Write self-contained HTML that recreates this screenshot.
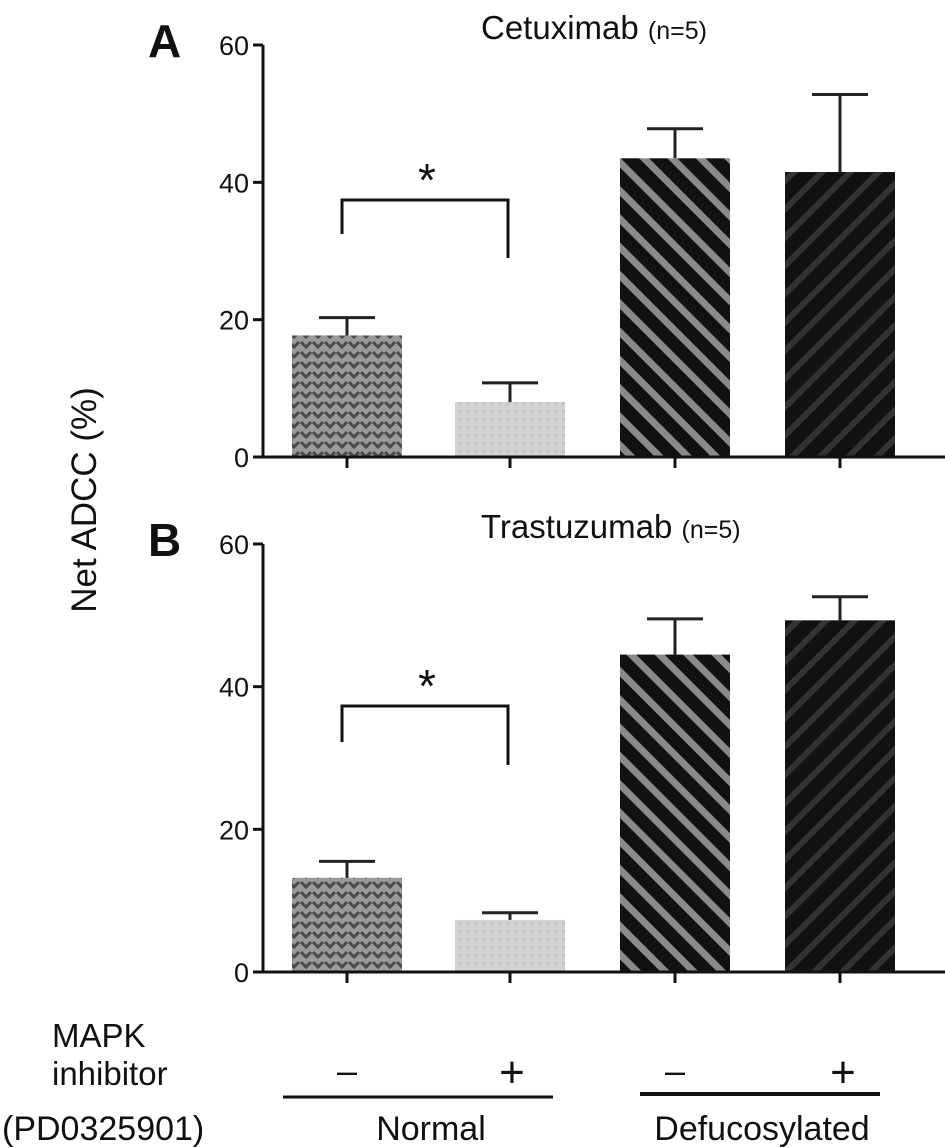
<!DOCTYPE html>
<html><head><meta charset="utf-8"><style>
html,body{margin:0;padding:0;background:#fff;}
svg{display:block;font-family:"Liberation Sans",sans-serif;}
</style></head><body>
<svg id="c" width="945" height="1148" xmlns="http://www.w3.org/2000/svg">
<defs>
<pattern id="pChev" width="12" height="10" patternUnits="userSpaceOnUse">
<rect width="12" height="10" fill="#9a9a9a"/>
<path d="M1 2 L6 7 L11 2" stroke="#4a4a4a" stroke-width="3" fill="none"/>
</pattern>
<pattern id="pDot" width="8" height="8" patternUnits="userSpaceOnUse">
<rect width="8" height="8" fill="#d2d2d2"/>
<rect x="2" y="2" width="3" height="3" fill="#c2c2c2"/>
</pattern>
<pattern id="pStripeG" width="20" height="20" patternUnits="userSpaceOnUse" patternTransform="rotate(-45)">
<rect width="20" height="20" fill="#111"/>
<rect width="7" height="20" fill="#8a8a8a"/>
</pattern>
<pattern id="pStripeD" width="20" height="20" patternUnits="userSpaceOnUse" patternTransform="rotate(45)">
<rect width="20" height="20" fill="#111"/>
<rect width="6" height="20" fill="#333"/>
</pattern>
</defs>
<g id="plot"></g>
</svg>
<script>
const categories = ["Normal -", "Normal +", "Defucosylated -", "Defucosylated +"];
const cetuximabValues = [17.7, 8.0, 43.5, 41.5];
const cetuximabErrors = [2.6, 2.8, 4.3, 11.3];
const trastuzumabValues = [13.2, 7.3, 44.5, 49.3];
const trastuzumabErrors = [2.3, 1.0, 5.0, 3.3];
const yTicks = [0, 20, 40, 60];
const fills = ["url(#pChev)", "url(#pDot)", "url(#pStripeG)", "url(#pStripeD)"];

const NS = "http://www.w3.org/2000/svg";
const g = document.getElementById("plot");
function el(tag, attrs, parent) {
  const e = document.createElementNS(NS, tag);
  for (const k in attrs) e.setAttribute(k, attrs[k]);
  (parent || g).appendChild(e);
  return e;
}
const barCenters = [347, 510, 675, 840];
const barW = 110;

function panel(key, label, title, y0, y60, vals, errs, bracket) {
  const grp = el("g", {});
  
  
  const ys = v => y0 - (v / 60) * (y0 - y60);
  vals.forEach((v, i) => {
    const x = barCenters[i] - barW / 2;
    const r = el("rect", {x: x, y: ys(v), width: barW, height: y0 - ys(v), fill: fills[i]}, grp);
    
    
    const top = ys(v + errs[i]);
    const eb = el("path", {d: `M${barCenters[i]} ${ys(v)} V${top} M${barCenters[i]-28} ${top} H${barCenters[i]+28}`, stroke: "#222", "stroke-width": 3, fill: "none"}, grp);
    
    
  });
  const ax = el("path", {d: `M263 ${y60} V${y0} H945`, stroke: "#111", "stroke-width": 3, fill: "none"}, grp);
  
  
  yTicks.forEach(t => {
    el("line", {x1: 253, x2: 263, y1: ys(t), y2: ys(t), stroke: "#111", "stroke-width": 3}, grp);
    const tx = el("text", {x: 249, y: ys(t) + 10, "text-anchor": "end", "font-size": 27, fill: "#111"}, grp);
    tx.textContent = t;
    
    
  });
  barCenters.forEach(c => el("line", {x1: c, x2: c, y1: y0, y2: y0 + 11, stroke: "#111", "stroke-width": 3}, grp));
  const br = el("path", {d: `M342 ${bracket[1]} V${bracket[0]} H508 V${bracket[2]}`, stroke: "#111", "stroke-width": 3, fill: "none"}, grp);
  
  
  const st = el("text", {x: 427, y: bracket[0] - 4, "text-anchor": "middle", "font-size": 46, fill: "#111"}, grp);
  st.textContent = "*";
  
  
  const pl = el("text", {x: 148, y: y60 + 12, "font-size": 46, "font-weight": "bold", fill: "#111"}, grp);
  pl.textContent = label;
  
  
  const tt = el("text", {x: 481, y: y60 - 6, "font-size": 33, fill: "#111"}, grp);
  tt.innerHTML = title + ' <tspan font-size="25">(n=5)</tspan>';
  
  
}
panel("cetuximab", "A", "Cetuximab", 457, 45, cetuximabValues, cetuximabErrors, [200, 234, 258]);
panel("trastuzumab", "B", "Trastuzumab", 972, 544, trastuzumabValues, trastuzumabErrors, [706, 742, 765]);

const yt = el("text", {x: 0, y: 0, transform: "translate(96,500) rotate(-90)", "text-anchor": "middle", "font-size": 35, fill: "#111"});
yt.textContent = "Net ADCC (%)";



function txt(s, x, y, size, anchor, name) {
  const t = el("text", {x: x, y: y, "font-size": size, "text-anchor": anchor, fill: "#111"});
  t.textContent = s;
  
  
}
txt("MAPK", 52, 1047, 33, "start", "mapk-label");
txt("inhibitor", 52, 1085, 33, "start", "inhibitor-label");
txt("(PD0325901)", 2, 1140, 34, "start", "compound-label");
txt("\u2013", 347, 1083, 36, "middle", "minus-normal");
txt("+", 512, 1087, 44, "middle", "plus-normal");
txt("\u2013", 675, 1083, 36, "middle", "minus-defucosylated");
txt("+", 843, 1087, 44, "middle", "plus-defucosylated");
txt("Normal", 431, 1140, 34, "middle", "group-label-normal");
txt("Defucosylated", 762, 1140, 34, "middle", "group-label-defucosylated");
const l1 = el("line", {x1: 283, x2: 553, y1: 1097, y2: 1097, stroke: "#111", "stroke-width": 3});


const l2 = el("line", {x1: 640, x2: 880, y1: 1094, y2: 1094, stroke: "#111", "stroke-width": 4});


</script>
</body></html>
